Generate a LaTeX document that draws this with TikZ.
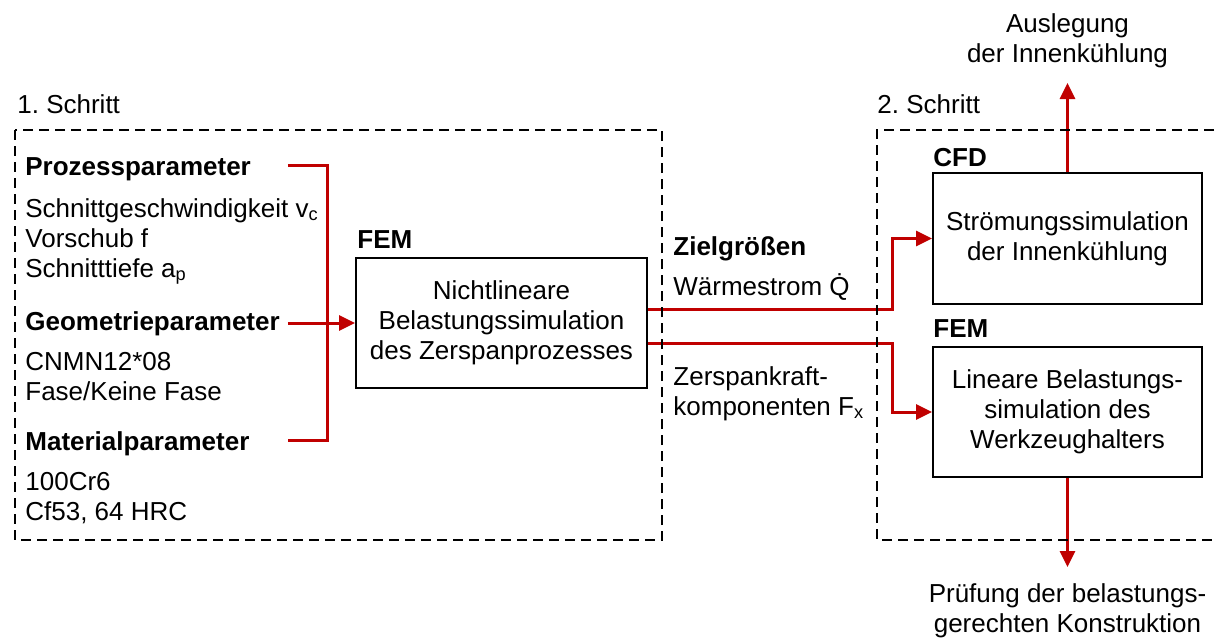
\documentclass[tikz,border=0pt]{standalone}
\usepackage{fontspec}
\setmainfont{Liberation Sans}
\usepackage{tikz}
\usetikzlibrary{arrows.meta}
\definecolor{flowred}{RGB}{192,0,0}

\begin{document}
\begin{tikzpicture}[x=.5pt, y=-.5pt, font=\fontsize{13}{15}\selectfont,
	frame/.style={dash pattern=on 5pt off 3pt, line width=1pt},
	simbox/.style={draw, line width=1pt, align=center, inner sep=0pt},
	txt/.style={anchor=base west, inner sep=0pt, align=left},
	head/.style={txt, font=\fontsize{13}{15}\selectfont\bfseries},
	flow/.style={draw=flowred, line width=1.5pt},
	flowarrow/.style={-{Triangle[length=8pt, width=7.5pt]}}]
	\useasboundingbox (0,0) rectangle (1215,637);
	\node[txt] (s1) at (17,113) {1.\ Schritt};
	\node[txt] (s2) at (877,113) {2.\ Schritt};
	\node[head, text width=131pt] (proz) at (25,175) {Prozessparameter};
	\node[txt] (prozval) at (25,277) {Schnittgeschwindigkeit v\textsubscript{c}\\Vorschub f\\Schnitttiefe a\textsubscript{p}};
	\node[head, text width=131pt] (geo) at (25,330) {Geometrieparameter};
	\node[txt] (geoval) at (25,400) {CNMN12*08\\Fase/Keine Fase};
	\node[head, text width=131pt] (mat) at (25,450) {Materialparameter};
	\node[txt] (matval) at (25,520) {100Cr6\\Cf53, 64 HRC};
	\node[head] (femlab) at (357,248) {FEM};
	\node[simbox, minimum width=145.5pt, minimum height=65pt] (fembox) at (501.5,323) {Nichtlineare\\Belastungssimulation\\des Zerspanprozesses};
	\node[head] (ziel) at (673,255) {Zielgrößen};
	\node[txt] (qdot) at (673,295) {Wärmestrom \.{Q}};
	\node[txt] (kraft) at (673,415) {Zerspankraft-\\komponenten F\textsubscript{x}};
	\node[head] (cfdlab) at (933,166) {CFD};
	\node[simbox, minimum width=134.5pt, minimum height=65.5pt] (cfdbox) at (1067.5,238.5) {Strömungssimulation\\der Innenkühlung};
	\node[head] (femlab2) at (933,337) {FEM};
	\node[simbox, minimum width=134.5pt, minimum height=65pt] (fembox2) at (1067.5,412) {Lineare Belastungs-\\simulation des\\Werkzeughalters};
	\node[inner sep=0pt, align=center, anchor=south] (ausl) at (1067.5,68) {Auslegung\\der Innenkühlung};
	\node[inner sep=0pt, align=center, anchor=north] (pruef) at (1067.5,583) {Prüfung der belastungs-\\gerechten Konstruktion};
	\coordinate (knee) at (892,323);
	\draw[flow] ([yshift=5pt]proz.base east) -- ++(40,0) |- ([yshift=5pt]mat.base east);
	\draw[flow, flowarrow] (geo.base east |- fembox.west) -- (fembox.west);
	\draw[flow, flowarrow] ([yshift=7pt]fembox.east) -| (knee |- cfdbox.west) -- (cfdbox.west);
	\draw[flow, flowarrow] ([yshift=-10pt]fembox.east) -| (knee |- fembox2.west) -- (fembox2.west);
	\draw[flow, flowarrow] (cfdbox.north) -- ([yshift=-7.5pt]ausl.south);
	\draw[flow, flowarrow] (fembox2.south) -- ([yshift=8pt]pruef.north);
	\draw[frame] (15,130) rectangle (662,540);
	\draw[frame] (1230,130) -- (877,130) -- (877,540) -- (1230,540);
\end{tikzpicture}
\end{document}
